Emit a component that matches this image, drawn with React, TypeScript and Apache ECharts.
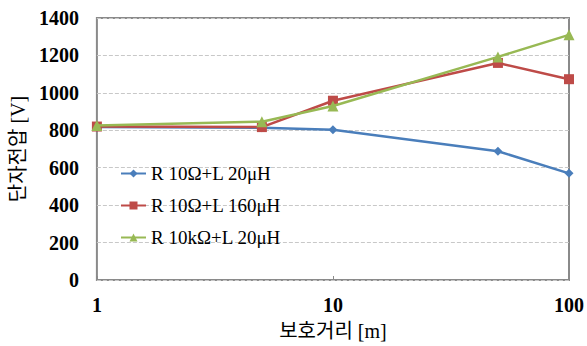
import React, { useEffect, useRef } from "react";
import * as echarts from "echarts";

const distances = [1, 5, 10, 50, 100];
const seriesNames = ["R 10Ω+L 20μH", "R 10Ω+L 160μH", "R 10kΩ+L 20μH"];
const r10L20 = [818, 813, 803, 688, 570];
const r10L160 = [820, 817, 958, 1160, 1073];
const r10kL20 = [825, 846, 930, 1192, 1310];
const yTicks = [0, 200, 400, 600, 800, 1000, 1200, 1400];

const colors = ["#4a7ebb", "#be4b48", "#98b954"];
const symbols = ["diamond", "rect", "triangle"];
const symbolSizes = [9, 10, 11];

export default function App() {
  const ref = useRef<HTMLDivElement>(null);
  useEffect(() => {
    if (!ref.current) return;
    const chart = echarts.init(ref.current, null, { renderer: "svg" });
    const serif = "'Liberation Serif', 'Times New Roman', 'Noto Sans CJK KR', serif";
    const data = [r10L20, r10L160, r10kL20];
    chart.setOption({
      animation: false,
      backgroundColor: "#ffffff",
      grid: {
        left: 90,
        right: 15,
        top: 18,
        bottom: 62,
        show: true,
        borderColor: "#8a8a8a",
        borderWidth: 2,
      },
      legend: {
        orient: "vertical",
        left: 120,
        top: 164,
        itemGap: 13,
        itemWidth: 25,
        itemHeight: 10,
        padding: 0,
        textStyle: { fontFamily: serif, fontSize: 19, color: "#000", padding: [0, 0, 0, 0] },
        data: seriesNames,
      },
      xAxis: {
        type: "log",
        logBase: 10,
        min: 1,
        max: 100,
        name: "보호거리 [m]",
        nameLocation: "middle",
        nameGap: 41,
        nameTextStyle: { fontFamily: serif, fontSize: 20, color: "#000" },
        axisLine: { show: false },
        axisTick: { show: true, inside: true, length: 4, lineStyle: { color: "#8a8a8a" } },
        splitLine: { show: false },
        minorTick: { show: false },
        axisLabel: {
          margin: 15,
          fontFamily: serif,
          fontWeight: "bold",
          fontSize: 20,
          color: "#000",
          formatter: (v: number) => String(v),
        },
      },
      yAxis: {
        type: "value",
        min: yTicks[0],
        max: yTicks[yTicks.length - 1],
        interval: 200,
        name: "단자전압 [V]",
        nameLocation: "middle",
        nameGap: 67,
        nameTextStyle: { fontFamily: serif, fontSize: 20, color: "#000" },
        axisLine: { show: false },
        axisTick: { show: false },
        splitLine: { show: true, lineStyle: { color: "#c8c8c8", type: "dashed", width: 1 } },
        axisLabel: {
          margin: 18,
          fontFamily: serif,
          fontWeight: "bold",
          fontSize: 20,
          color: "#000",
          formatter: (v: number) => String(v),
        },
      },
      series: seriesNames.map((name, i) => ({
        name,
        type: "line",
        data: distances.map((d, j) => [d, data[i][j]]),
        symbol: symbols[i],
        symbolSize: symbolSizes[i],
        showSymbol: true,
        lineStyle: { color: colors[i], width: 2.5 },
        itemStyle: { color: colors[i] },
        z: 3 + i,
      })),
    });
    return () => chart.dispose();
  }, []);
  return (
    <div
      ref={ref}
      style={{ position: "fixed", left: 0, top: 0, width: 587, height: 346 }}
    />
  );
}
